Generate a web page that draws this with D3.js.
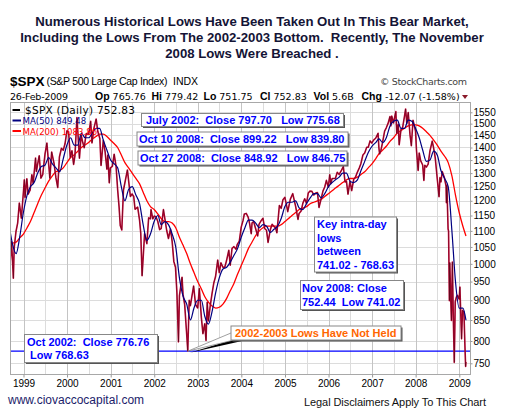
<!DOCTYPE html>
<html><head><meta charset="utf-8">
<script src="https://cdn.jsdelivr.net/npm/d3@7"></script>
<style>body{margin:0;background:#fff} svg{display:block}</style>
</head><body>
<svg id="c" width="505" height="415"></svg>
<script>
// ---------- DATA ----------
const titleLines = [
  "Numerous Historical Lows Have Been Taken Out In This Bear Market,",
  "Including the Lows From The 2002-2003 Bottom.  Recently, The November",
  "2008 Lows Were Breached ."
];
const yTickValues = [750,800,850,900,950,1000,1050,1100,1150,1200,1250,1300,1350,1400,1450,1500,1550];
const xTickYears = ["1999","2000","2001","2002","2003","2004","2005","2006","2007","2008","2009"];

// $SPX closes (approx. semi-monthly, including key turning points)
const spxDaily = [
 ["1998-09-10",1000],["1998-09-23",1066],["1998-10-08",959],["1998-10-15",1047],["1998-10-30",1098],["1998-11-13",1125],["1998-11-27",1192],["1998-12-14",1141],["1998-12-31",1229],
 ["1999-01-08",1275],["1999-01-14",1212],["1999-01-29",1279],["1999-02-09",1223],["1999-02-26",1238],["1999-03-12",1294],["1999-03-23",1262],["1999-04-12",1358],["1999-04-19",1306],["1999-04-30",1335],["1999-05-13",1367],["1999-05-27",1281],["1999-06-11",1294],["1999-06-30",1373],["1999-07-16",1418],["1999-08-10",1281],["1999-08-25",1382],["1999-09-14",1337],["1999-09-30",1282],["1999-10-15",1247],["1999-10-29",1362],["1999-11-15",1397],["1999-11-30",1389],["1999-12-15",1415],["1999-12-31",1469],
 ["2000-01-14",1465],["2000-01-28",1360],["2000-02-11",1387],["2000-02-25",1333],["2000-03-07",1366],["2000-03-24",1527],["2000-04-14",1357],["2000-04-28",1452],["2000-05-12",1420],["2000-05-24",1399],["2000-06-09",1457],["2000-06-30",1455],["2000-07-17",1510],["2000-07-28",1419],["2000-08-15",1484],["2000-09-01",1520],["2000-09-15",1466],["2000-10-02",1437],["2000-10-12",1329],["2000-10-31",1429],["2000-11-15",1383],["2000-11-30",1315],["2000-12-08",1370],["2000-12-20",1264],["2000-12-29",1320],
 ["2001-01-15",1326],["2001-01-30",1373],["2001-02-15",1326],["2001-02-28",1240],["2001-03-12",1180],["2001-03-22",1117],["2001-04-04",1103],["2001-04-18",1238],["2001-05-21",1312],["2001-06-15",1215],["2001-06-29",1224],["2001-07-13",1215],["2001-07-24",1171],["2001-08-15",1178],["2001-08-31",1134],["2001-09-10",1092],["2001-09-21",966],["2001-10-12",1091],["2001-10-31",1060],["2001-11-15",1142],["2001-11-30",1139],["2001-12-05",1170],["2001-12-20",1139],["2001-12-31",1148],
 ["2002-01-15",1146],["2002-01-31",1130],["2002-02-15",1104],["2002-02-28",1107],["2002-03-19",1170],["2002-03-28",1147],["2002-04-15",1102],["2002-04-30",1076],["2002-05-17",1106],["2002-05-31",1067],["2002-06-14",1007],["2002-06-28",990],["2002-07-10",920],["2002-07-23",798],["2002-07-31",912],["2002-08-22",962],["2002-08-30",916],["2002-09-13",889],["2002-09-30",815],["2002-10-09",777],["2002-10-21",900],["2002-10-31",886],["2002-11-27",938],["2002-12-13",889],["2002-12-31",880],
 ["2003-01-14",931],["2003-01-31",856],["2003-02-13",817],["2003-02-28",841],["2003-03-11",801],["2003-03-21",895],["2003-03-31",848],["2003-04-15",885],["2003-04-30",917],["2003-05-15",946],["2003-05-30",964],["2003-06-17",1011],["2003-06-30",975],["2003-07-14",1003],["2003-07-31",990],["2003-08-15",990],["2003-08-29",1008],["2003-09-18",1040],["2003-09-30",996],["2003-10-15",1046],["2003-10-31",1051],["2003-11-17",1043],["2003-11-28",1058],["2003-12-15",1068],["2003-12-31",1112],
 ["2004-01-15",1133],["2004-01-26",1155],["2004-02-11",1157],["2004-02-27",1145],["2004-03-10",1124],["2004-03-24",1091],["2004-03-31",1126],["2004-04-13",1130],["2004-04-30",1107],["2004-05-17",1084],["2004-05-28",1121],["2004-06-15",1133],["2004-06-30",1141],["2004-07-15",1107],["2004-07-30",1102],["2004-08-12",1064],["2004-08-31",1104],["2004-09-15",1121],["2004-09-30",1115],["2004-10-15",1108],["2004-10-25",1094],["2004-11-15",1184],["2004-11-30",1174],["2004-12-15",1204],["2004-12-31",1212],
 ["2005-01-14",1184],["2005-01-24",1163],["2005-02-15",1206],["2005-03-07",1225],["2005-03-31",1181],["2005-04-20",1137],["2005-04-29",1157],["2005-05-16",1165],["2005-05-31",1192],["2005-06-15",1207],["2005-06-30",1191],["2005-07-15",1227],["2005-07-29",1234],["2005-08-15",1233],["2005-08-31",1220],["2005-09-15",1227],["2005-09-30",1229],["2005-10-13",1177],["2005-10-31",1207],["2005-11-15",1234],["2005-11-30",1249],["2005-12-14",1273],["2005-12-30",1248],
 ["2006-01-11",1294],["2006-01-20",1261],["2006-01-31",1280],["2006-02-15",1280],["2006-02-28",1281],["2006-03-15",1303],["2006-03-31",1295],["2006-04-20",1311],["2006-05-05",1325],["2006-05-19",1267],["2006-05-31",1270],["2006-06-13",1223],["2006-06-30",1270],["2006-07-14",1236],["2006-07-31",1277],["2006-08-15",1285],["2006-08-31",1304],["2006-09-15",1319],["2006-09-29",1336],["2006-10-16",1370],["2006-10-31",1378],["2006-11-17",1401],["2006-11-30",1401],["2006-12-15",1427],["2006-12-29",1418],
 ["2007-01-15",1431],["2007-01-31",1438],["2007-02-20",1459],["2007-02-27",1399],["2007-03-05",1374],["2007-03-15",1387],["2007-03-30",1421],["2007-04-16",1468],["2007-04-30",1482],["2007-05-15",1501],["2007-05-31",1531],["2007-06-07",1490],["2007-06-15",1533],["2007-06-29",1503],["2007-07-19",1553],["2007-07-27",1458],["2007-08-08",1497],["2007-08-16",1411],["2007-08-31",1474],["2007-09-14",1484],["2007-09-28",1527],["2007-10-09",1565],["2007-10-19",1501],["2007-10-31",1549],["2007-11-15",1452],["2007-11-26",1407],["2007-12-10",1515],["2007-12-31",1468],
 ["2008-01-08",1390],["2008-01-22",1310],["2008-01-31",1378],["2008-02-12",1348],["2008-02-29",1331],["2008-03-10",1273],["2008-03-18",1330],["2008-03-31",1323],["2008-04-15",1334],["2008-04-30",1386],["2008-05-19",1426],["2008-05-30",1400],["2008-06-13",1360],["2008-06-30",1280],["2008-07-15",1214],["2008-07-23",1283],["2008-07-31",1267],["2008-08-11",1306],["2008-08-29",1283],["2008-09-12",1252],["2008-09-15",1193],["2008-09-19",1255],["2008-09-29",1106],["2008-10-03",1099],["2008-10-10",899],["2008-10-13",1003],["2008-10-22",896],["2008-10-27",849],["2008-11-04",1005],["2008-11-12",852],["2008-11-20",752],["2008-11-28",896],["2008-12-08",909],["2008-12-16",913],["2008-12-31",903],
 ["2009-01-06",935],["2009-01-20",805],["2009-01-28",874],["2009-02-09",870],["2009-02-17",790],["2009-02-23",743],["2009-02-26",753]
];

// Moving averages read at month ends
const maDates = ["1998-09-10","1998-09-30","1998-10-31","1998-11-30","1998-12-31",
 "1999-01-31","1999-02-28","1999-03-31","1999-04-30","1999-05-31","1999-06-30","1999-07-31","1999-08-31","1999-09-30","1999-10-31","1999-11-30","1999-12-31",
 "2000-01-31","2000-02-29","2000-03-31","2000-04-30","2000-05-31","2000-06-30","2000-07-31","2000-08-31","2000-09-30","2000-10-31","2000-11-30","2000-12-31",
 "2001-01-31","2001-02-28","2001-03-31","2001-04-30","2001-05-31","2001-06-30","2001-07-31","2001-08-31","2001-09-30","2001-10-31","2001-11-30","2001-12-31",
 "2002-01-31","2002-02-28","2002-03-31","2002-04-30","2002-05-31","2002-06-30","2002-07-31","2002-08-31","2002-09-30","2002-10-31","2002-11-30","2002-12-31",
 "2003-01-31","2003-02-28","2003-03-31","2003-04-30","2003-05-31","2003-06-30","2003-07-31","2003-08-31","2003-09-30","2003-10-31","2003-11-30","2003-12-31",
 "2004-01-31","2004-02-29","2004-03-31","2004-04-30","2004-05-31","2004-06-30","2004-07-31","2004-08-31","2004-09-30","2004-10-31","2004-11-30","2004-12-31",
 "2005-01-31","2005-02-28","2005-03-31","2005-04-30","2005-05-31","2005-06-30","2005-07-31","2005-08-31","2005-09-30","2005-10-31","2005-11-30","2005-12-31",
 "2006-01-31","2006-02-28","2006-03-31","2006-04-30","2006-05-31","2006-06-30","2006-07-31","2006-08-31","2006-09-30","2006-10-31","2006-11-30","2006-12-31",
 "2007-01-31","2007-02-28","2007-03-31","2007-04-30","2007-05-31","2007-06-30","2007-07-31","2007-08-31","2007-09-30","2007-10-31","2007-11-30","2007-12-31",
 "2008-01-31","2008-02-29","2008-03-31","2008-04-30","2008-05-31","2008-06-30","2008-07-31","2008-08-31","2008-09-30","2008-10-31","2008-11-30","2008-12-31",
 "2009-01-31","2009-02-26"];
const ma50Values = [1100,1060,1030,1080,1160,
 1220,1250,1265,1300,1325,1330,1360,1335,1320,1305,1355,1410,
 1440,1410,1410,1460,1440,1440,1460,1480,1480,1430,1390,1350,
 1335,1320,1250,1200,1240,1250,1220,1190,1120,1070,1090,1130,
 1150,1120,1130,1120,1090,1050,960,910,890,850,880,900,
 900,860,840,870,920,960,985,990,1005,1025,1045,1080,
 1110,1135,1135,1125,1110,1120,1115,1095,1105,1115,1140,1180,
 1195,1195,1200,1175,1170,1190,1210,1225,1225,1210,1225,1250,
 1265,1275,1285,1300,1300,1270,1265,1275,1310,1345,1380,1405,
 1420,1435,1420,1440,1490,1510,1515,1480,1480,1515,1510,1480,
 1440,1390,1345,1350,1385,1370,1310,1280,1250,1100,950,880,
 880,849.48];
const ma200Values = [1060,1062,1065,1078,1090,
 1110,1130,1160,1190,1220,1245,1270,1290,1305,1310,1320,1340,
 1360,1370,1385,1400,1410,1420,1435,1445,1455,1455,1445,1430,
 1415,1400,1370,1340,1320,1300,1280,1260,1230,1200,1180,1170,
 1155,1140,1130,1130,1125,1110,1080,1055,1030,1000,975,950,
 930,910,895,885,880,882,890,905,925,945,970,995,
 1020,1045,1065,1085,1100,1110,1115,1115,1115,1115,1120,1130,
 1140,1150,1160,1170,1175,1180,1190,1195,1200,1205,1215,1225,
 1235,1245,1255,1265,1275,1280,1280,1285,1295,1305,1320,1335,
 1355,1375,1390,1405,1425,1440,1460,1470,1480,1490,1495,1495,
 1490,1480,1465,1450,1430,1410,1385,1365,1340,1290,1220,1160,
 1115,1083.86];

const supportLevel = 776.76;
const lowPoint = ["2002-10-09", 776.76];

// ---------- DRAW ----------
const NB = s => s.replace(/ {2,}/g, m => "\u00A0".repeat(m.length - 1) + " ");
const parse = d3.timeParse("%Y-%m-%d");
const svg = d3.select("#c");
const P = {l:10, r:470, t:102, b:374};

const x = d3.scaleTime().domain([new Date(1999,0,1), new Date(2009,0,1)]).range([23.5, 459.3]);
const y = d3.scaleLog().domain([750,1550]).range([363.3,112.3]);

svg.append("rect").attr("width",505).attr("height",415).attr("fill","#fff");

// Title
const title = svg.append("g").attr("font-family","'Liberation Sans', Arial, sans-serif")
  .attr("font-weight","bold").attr("font-size",13.2).attr("fill","#141436").attr("text-anchor","middle");
titleLines.forEach((t,i)=> title.append("text").attr("x",252).attr("y",26+i*16).text(NB(t)));

// Header
svg.append("text").attr("x",10).attr("y",86).attr("font-family","'Liberation Sans',Arial").attr("font-weight","bold").attr("font-size",13.5).text("$SPX");
svg.append("text").attr("x",46.5).attr("y",85).attr("font-family","'Liberation Sans',Arial").attr("font-size",10.5).attr("textLength",121).text("(S&P 500 Large Cap Index)");
svg.append("text").attr("x",173).attr("y",85).attr("font-family","'Liberation Sans',Arial").attr("font-size",10.5).text("INDX");
svg.append("text").attr("x",380).attr("y",84.5).attr("font-family","'DejaVu Sans'").attr("font-size",9.5).attr("fill","#444").attr("textLength",87).text("\u00A9 StockCharts.com");

const hdr2 = svg.append("text").attr("y",99.5).attr("font-family","'DejaVu Sans'").attr("font-size",9.5);
hdr2.append("tspan").attr("x",10).attr("textLength",58).text("26-Feb-2009");
const stats = [["Op","765.76",95],["Hi","779.42",151.5],["Lo","751.75",203.5],["Cl","752.83",260],["Vol","5.6B",313.5],["Chg","-12.07 (-1.58%)",361.5]];
stats.forEach(s=>{
  hdr2.append("tspan").attr("x",s[2]).attr("font-weight","bold").attr("font-family","'Liberation Sans',Arial").attr("font-size",10.5).text(s[0]);
  hdr2.append("tspan").attr("dx",3).text(s[1]);
});
svg.append("path").attr("d","M462,95L468,95L465,99Z").attr("fill","#8b1a2a");

// Grid
const halfYears = d3.timeMonth.every(6).range(new Date(1998,6,1), new Date(2009,1,1));
const grid = svg.append("g");
grid.selectAll("line.h").data(yTickValues).join("line")
  .attr("x1",P.l).attr("x2",P.r).attr("y1",d=>Math.round(y(d))+0.5).attr("y2",d=>Math.round(y(d))+0.5)
  .attr("stroke","#dcdcdc");
grid.selectAll("line.v").data(halfYears.filter(d=>x(d)>P.l && x(d)<P.r)).join("line")
  .attr("x1",d=>Math.round(x(d))+0.5).attr("x2",d=>Math.round(x(d))+0.5).attr("y1",P.t).attr("y2",P.b)
  .attr("stroke",d=>d.getMonth()===0?"#c4c4c4":"#dcdcdc");

// Plot border
svg.append("rect").attr("x",P.l+0.5).attr("y",P.t+0.5).attr("width",P.r-P.l).attr("height",P.b-P.t)
  .attr("fill","none").attr("stroke","#a8a8a8");

// Axes
const yAxis = svg.append("g").attr("transform",`translate(${P.r+0.5},0)`)
  .call(d3.axisRight(y).tickValues(yTickValues).tickFormat(d3.format("d")).tickSize(2).tickPadding(1));
yAxis.select(".domain").remove();
yAxis.selectAll("text").attr("font-family","'Liberation Sans',Arial").attr("font-size",10).attr("fill","#000");
yAxis.selectAll("line").attr("stroke","#999");

const yearDates = xTickYears.map(s=>new Date(+s,0,1));
const xAxis = svg.append("g").attr("transform",`translate(0,${P.b+0.5})`)
  .call(d3.axisBottom(x).tickValues(yearDates).tickFormat(d3.timeFormat("%Y")).tickSize(3).tickPadding(2));
xAxis.select(".domain").remove();
xAxis.selectAll("text").attr("font-family","'Liberation Sans',Arial").attr("font-size",10).attr("fill","#000");
xAxis.selectAll("line").attr("stroke","#999");

// Clip
svg.append("clipPath").attr("id","clip").append("rect").attr("x",P.l+1).attr("y",P.t+1).attr("width",P.r-P.l-1).attr("height",P.b-P.t-1);
const plot = svg.append("g").attr("clip-path","url(#clip)");

// Support line
plot.append("line").attr("x1",P.l).attr("x2",P.r).attr("y1",y(supportLevel)).attr("y2",y(supportLevel))
  .attr("stroke","#0000ff").attr("stroke-width",1.2);

const line = d3.line().x(d=>x(d[0])).y(d=>y(d[1]));
const smooth = d3.line().x(d=>x(d[0])).y(d=>y(d[1])).curve(d3.curveMonotoneX);
const price = spxDaily.map(d=>[parse(d[0]),d[1]]);
const ma50 = maDates.map((d,i)=>[parse(d),ma50Values[i]]);
const ma200 = maDates.map((d,i)=>[parse(d),ma200Values[i]]);

plot.append("path").datum(ma200).attr("d",smooth).attr("fill","none").attr("stroke","#ff0000").attr("stroke-width",1.3);
plot.append("path").datum(price).attr("d",line).attr("fill","none").attr("stroke","#cc0a3a").attr("stroke-width",1.6).attr("stroke-linejoin","round");
plot.append("path").datum(price).attr("d",line).attr("fill","none").attr("stroke","#000").attr("stroke-width",0.6).attr("opacity",0.55);
plot.append("path").datum(ma50).attr("d",smooth).attr("fill","none").attr("stroke","#000080").attr("stroke-width",1.2);

// Legend
const lg = svg.append("g").attr("font-family","'DejaVu Sans'");
lg.append("line").attr("x1",12.5).attr("x2",20).attr("y1",110).attr("y2",110).attr("stroke","#000").attr("stroke-width",2);
lg.append("text").attr("x",25).attr("y",113.5).attr("font-size",10.5).attr("textLength",110).text("$SPX (Daily) 752.83");
lg.append("line").attr("x1",12.5).attr("x2",21).attr("y1",120.5).attr("y2",120.5).attr("stroke","#000080").attr("stroke-width",2);
lg.append("text").attr("x",22.5).attr("y",124).attr("font-size",8.6).attr("fill","#000080").text("MA(50) 849.48");
lg.append("line").attr("x1",12.5).attr("x2",21).attr("y1",131).attr("y2",131).attr("stroke","#ff0000").attr("stroke-width",2);
lg.append("text").attr("x",22.5).attr("y",134.5).attr("font-size",8.6).attr("fill","#ff0000").text("MA(200) 1083.86");

// Annotation boxes
function box(x0,y0,w,h){
  svg.append("rect").attr("x",x0+2).attr("y",y0+2).attr("width",w).attr("height",h).attr("fill","#555");
  svg.append("rect").attr("x",x0+0.5).attr("y",y0+0.5).attr("width",w).attr("height",h).attr("fill","#fff").attr("stroke","#888");
}
function label(lines, x0, y0, dy, color){
  const t = svg.append("text").attr("font-family","'Liberation Sans',Arial").attr("font-weight","bold")
    .attr("font-size",11).attr("fill",color||"#0000ff");
  lines.forEach((s,i)=>t.append("tspan").attr("x",x0).attr("y",y0+i*dy).text(NB(s)));
}
box(141,113,202,13); label(["July 2002:  Close 797.70   Low 775.68"],146,123.5,0);
box(136.5,131.5,211,14); label(["Oct 10 2008:  Close 899.22   Low 839.80"],139,142.5,0);
box(137.5,150.5,209,14); label(["Oct 27 2008:  Close 848.92   Low 846.75"],140,161.5,0);
box(314,216.5,82,55); label(["Key intra-day","lows","between","741.02 - 768.63"],317,228,13.7);
box(300,280,103,29); label(["Nov 2008: Close","752.44  Low 741.02"],302,291.5,14.3);
box(24,334,133,28); label(["Oct 2002:  Close 776.76","\u00A0Low 768.63"],27,345.5,13.5);

// Callout to the 2002 low
const tipX = x(parse(lowPoint[0])), tipY = y(lowPoint[1]);
svg.append("path").attr("d",`M238,338L242,341L${tipX+2},${tipY+1.5}Z`).attr("fill","#000");
svg.append("path").attr("d",`M231,333L238,339L${tipX},${tipY}Z`).attr("fill","#fff").attr("stroke","#888").attr("stroke-width",0.8);
box(230.5,325.5,170,14); label(["2002-2003 Lows Have Not Held"],235,336.5,0,"#ff6600");

// Footer
svg.append("text").attr("x",8).attr("y",403.5).attr("font-family","'Liberation Sans',Arial").attr("font-size",12).attr("fill","#1c1c6a").text("www.ciovaccocapital.com");
svg.append("text").attr("x",304).attr("y",406).attr("font-family","'Liberation Sans',Arial").attr("font-size",11).attr("fill","#111").attr("textLength",182).text("Legal Disclaimers Apply To This Chart");
</script>
</body></html>
